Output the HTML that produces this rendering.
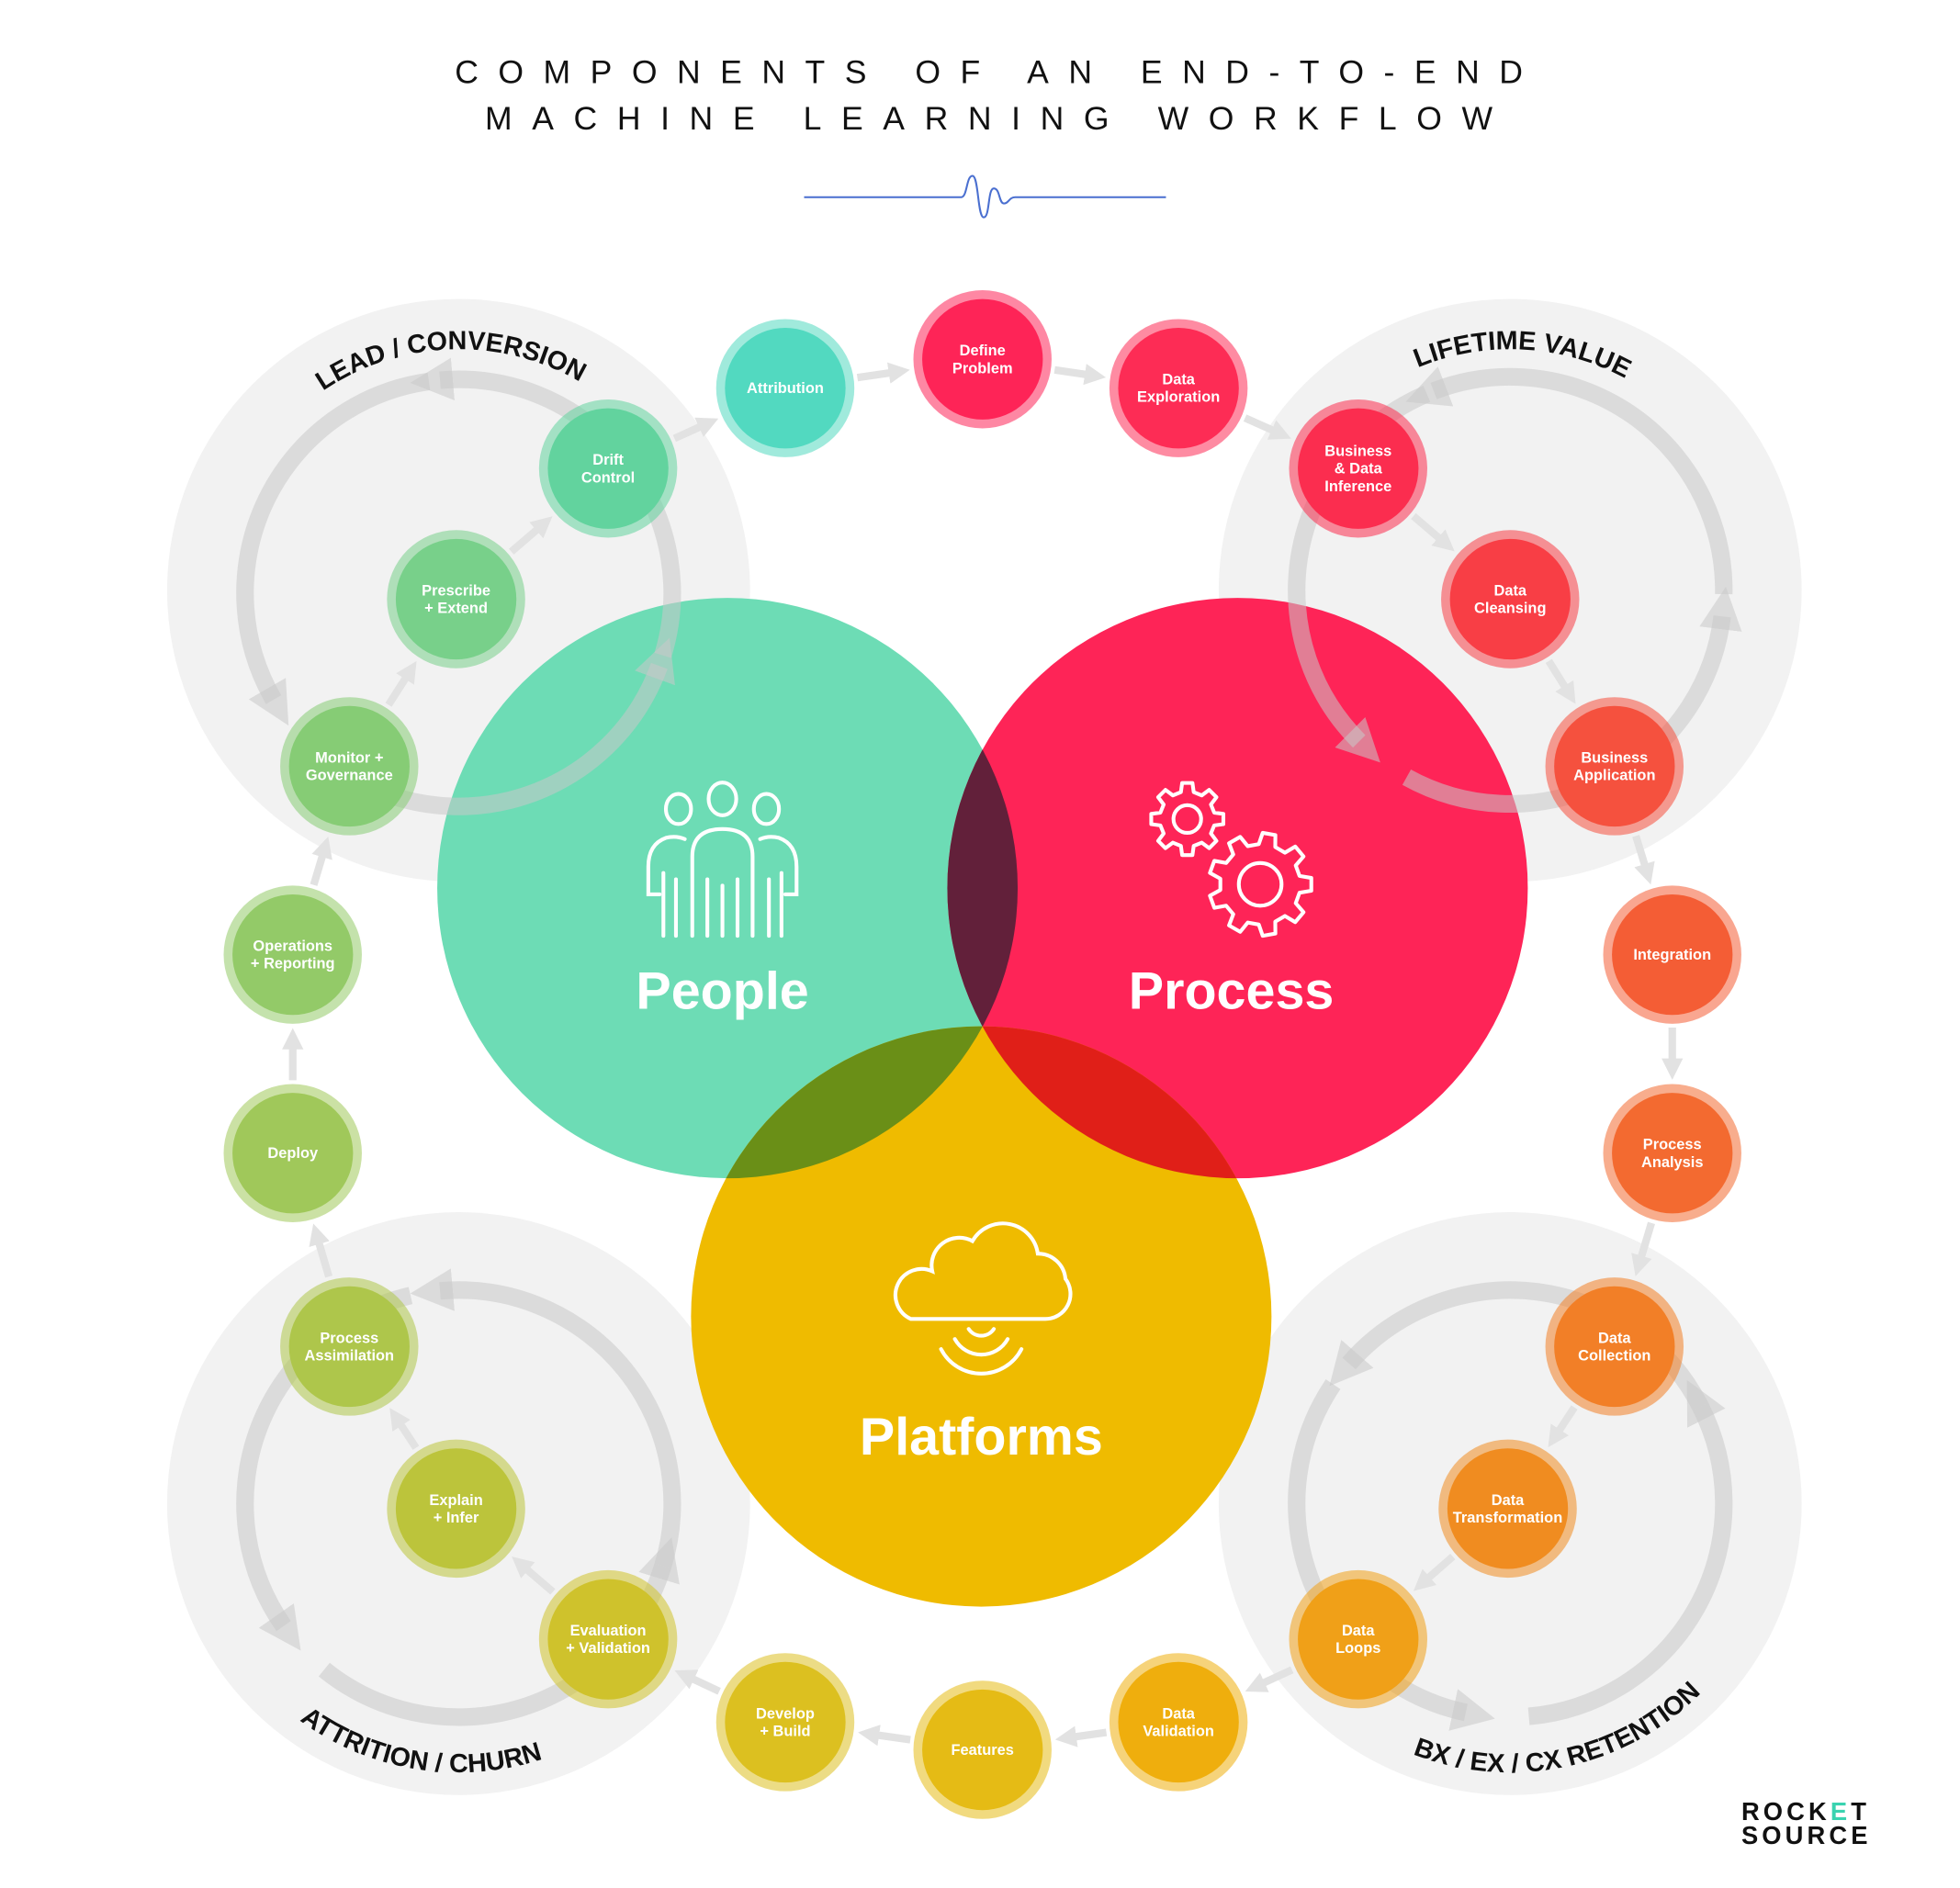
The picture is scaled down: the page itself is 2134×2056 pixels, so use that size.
<!DOCTYPE html>
<html><head><meta charset="utf-8"><style>
html,body{margin:0;padding:0;background:#fff;}
svg{display:block;}
text{font-family:"Liberation Sans",sans-serif;}
</style></head><body>
<svg id="s" xmlns="http://www.w3.org/2000/svg" width="2134" height="2056" viewBox="0 0 1560 1503">
<defs>
<marker id="ah" viewBox="0 0 10 10" refX="2" refY="5" markerWidth="17" markerHeight="17" markerUnits="userSpaceOnUse" orient="auto"><path d="M0,0 L10,5 L0,10 z" fill="#e2e2e2"/></marker>
<marker id="rh" viewBox="0 0 10 10" refX="3" refY="5" markerWidth="34" markerHeight="34" markerUnits="userSpaceOnUse" orient="auto"><path d="M0,0 L10,5 L0,10 z" fill="#c8c8c8" fill-opacity="0.55"/></marker>
<clipPath id="cPeople"><circle cx="579" cy="707" r="231"/></clipPath>
<clipPath id="cProcess"><circle cx="985" cy="707" r="231"/></clipPath>
</defs>
<rect width="1560" height="1503" fill="#fff"/>
<text x="362" y="66" font-size="26" fill="#111" textLength="850" lengthAdjust="spacing">COMPONENTS OF AN END-TO-END</text>
<text x="386" y="103" font-size="26" fill="#111" textLength="802" lengthAdjust="spacing">MACHINE LEARNING WORKFLOW</text>
<path d="M640 157 H765 C770 157 769 140 774 140 C779 140 778 173 783 173 C788 173 786 150 791 150 C796 150 795 162 799 162 C803 162 803 157 808 157 H928" fill="none" stroke="#4a6fd0" stroke-width="1.5"/>
<g fill="#f2f2f2">
<circle cx="365" cy="470" r="232"/><circle cx="1202" cy="470" r="232"/>
<circle cx="365" cy="1197" r="232"/><circle cx="1202" cy="1197" r="232"/>
</g>
<circle cx="579" cy="707" r="231" fill="#6ddcb5"/>
<circle cx="985" cy="707" r="231" fill="#fe2457"/>
<circle cx="781" cy="1048" r="231" fill="#efbb00"/>
<circle cx="985" cy="707" r="231" fill="#62203a" clip-path="url(#cPeople)"/>
<circle cx="781" cy="1048" r="231" fill="#6a8f17" clip-path="url(#cPeople)"/>
<circle cx="781" cy="1048" r="231" fill="#e01f18" clip-path="url(#cProcess)"/>
<g id="rings"></g>
<g id="conn"></g>
<g id="nodes"></g>
<g fill="none" stroke="#fff" stroke-width="3" stroke-linecap="round">
<ellipse cx="540" cy="644" rx="10" ry="12"/><ellipse cx="575" cy="636" rx="11" ry="13"/><ellipse cx="610" cy="644" rx="10" ry="12"/>
<path d="M551 745 V682 Q551 660 575 660 Q599 660 599 682 V745"/>
<path d="M563 700 V745 M587 700 V745 M575 705 V745"/>
<path d="M545 668 Q538 665 530 667 Q516 672 516 690 V712 H525"/>
<path d="M528 695 V745 M538 700 V745"/>
<path d="M605 668 Q612 665 620 667 Q634 672 634 690 V712 H625"/>
<path d="M622 695 V745 M612 700 V745"/>
</g>
<g id="gears" fill="none" stroke="#fff" stroke-width="3" stroke-linejoin="round"></g>
<g fill="none" stroke="#fff" stroke-width="3" stroke-linecap="round">
<path d="M725 1050 H832 A20 20 0 0 0 848 1018 A22 22 0 0 0 826 998 A28 28 0 0 0 774 988 A22 22 0 0 0 742 1012 A20 20 0 0 0 725 1050 Z"/>
<path d="M771 1058 A12 12 0 0 0 791 1058"/>
<path d="M760 1066 A24 24 0 0 0 802 1066"/>
<path d="M749 1074 A36 36 0 0 0 813 1074"/>
</g>
<g font-weight="bold" fill="#fff" text-anchor="middle" font-size="42">
<text x="575" y="803">People</text>
<text x="980" y="803">Process</text>
<text x="781" y="1158">Platforms</text>
</g>
<g id="labels" font-weight="bold" font-size="21" fill="#111"></g>
<g font-weight="bold" font-size="20" fill="#111" letter-spacing="3">
<text x="1386" y="1449">ROCK<tspan fill="#3ad3b0">E</tspan>T</text>
<text x="1386" y="1468">SOURCE</text>
</g>
</svg>
<script>
var NS="http://www.w3.org/2000/svg";
function el(t,a,p,txt){var e=document.createElementNS(NS,t);for(var k in a)e.setAttribute(k,a[k]);if(txt!=null)e.textContent=txt;p.appendChild(e);return e;}
function rad(d){return d*Math.PI/180;}
function pt(cx,cy,r,a){return [cx+r*Math.cos(rad(a)),cy+r*Math.sin(rad(a))];}
var rings=document.getElementById('rings');
var R=[[365,472,[-95,150,20]],[1202,470,[-111,135,7]],[365,1197,[-95,145,17]],[1202,1197,[-139,102,-27]]];
R.forEach(function(r){r[2].forEach(function(e){
 var s=e+112, p1=pt(r[0],r[1],170,s), p2=pt(r[0],r[1],170,e);
 el('path',{d:'M'+p1[0]+' '+p1[1]+' A170 170 0 0 0 '+p2[0]+' '+p2[1],fill:'none',stroke:'#c8c8c8','stroke-opacity':'0.55','stroke-width':14,'marker-end':'url(#rh)'},rings);
});});
var N=[
[484,373,'#62d39e',['Drift','Control']],
[625,309,'#52d9c0',['Attribution']],
[782,286,'#fe2457',['Define','Problem']],
[938,309,'#fd2c55',['Data','Exploration']],
[1081,373,'#fb2d4f',['Business','& Data','Inference']],
[1202,477,'#f83e45',['Data','Cleansing']],
[1285,610,'#f5513e',['Business','Application']],
[1331,760,'#f45d35',['Integration']],
[1331,918,'#f36a30',['Process','Analysis']],
[1285,1072,'#f27f27',['Data','Collection']],
[1200,1201,'#f08c20',['Data','Transformation']],
[1081,1305,'#f0a018',['Data','Loops']],
[938,1371,'#efae0d',['Data','Validation']],
[782,1393,'#e5bb15',['Features']],
[625,1371,'#dcc020',['Develop','+ Build']],
[484,1305,'#cfc22c',['Evaluation','+ Validation']],
[363,1201,'#bcc43b',['Explain','+ Infer']],
[278,1072,'#aec64b',['Process','Assimilation']],
[233,918,'#a0c85a',['Deploy']],
[233,760,'#93ca68',['Operations','+ Reporting']],
[278,610,'#86cc75',['Monitor +','Governance']],
[363,477,'#78d08a',['Prescribe','+ Extend']]
];
var conn=document.getElementById('conn'),nodes=document.getElementById('nodes');
for(var i=0;i<N.length;i++){
 var a=N[i],b=N[(i+1)%N.length];
 var dx=b[0]-a[0],dy=b[1]-a[1],L=Math.sqrt(dx*dx+dy*dy),ux=dx/L,uy=dy/L;
 el('line',{x1:a[0]+ux*58,y1:a[1]+uy*58,x2:b[0]-ux*72,y2:b[1]-uy*72,stroke:'#e2e2e2','stroke-width':6,'marker-end':'url(#ah)'},conn);
}
N.forEach(function(n){
 el('circle',{cx:n[0],cy:n[1],r:55,fill:n[2],'fill-opacity':0.55},nodes);
 el('circle',{cx:n[0],cy:n[1],r:48,fill:n[2]},nodes);
 var k=n[3].length,lh=14,y0=n[1]-(k-1)*lh/2+4;
 n[3].forEach(function(t,j){el('text',{x:n[0],y:y0+j*lh,'font-size':12,'font-weight':'bold',fill:'#fff','text-anchor':'middle'},nodes,t);});
});
var g=document.getElementById('gears');
function gear(cx,cy,Ro,Ri,n,rh){
 var d='',st=360/n;
 for(var k=0;k<n;k++){
  var a0=k*st;
  var pts=[[Ri,a0-st*0.3],[Ro,a0-st*0.18],[Ro,a0+st*0.18],[Ri,a0+st*0.3]];
  pts.forEach(function(p,j){var q=pt(cx,cy,p[0],p[1]);d+=(k==0&&j==0?'M':'L')+q[0].toFixed(1)+' '+q[1].toFixed(1)+' ';});
 }
 el('path',{d:d+'Z'},g);el('circle',{cx:cx,cy:cy,r:rh},g);
}
gear(945,652,29,22,8,11);gear(1003,704,41,32,9,17);
var lab=document.getElementById('labels'),defs=document.querySelector('defs');
function curve(id,cx,cy,r,c,top,txt){
 var a1,a2,sw;
 if(top){a1=c-75;a2=c+75;sw=1;}else{a1=c+75;a2=c-75;sw=0;}
 var p1=pt(cx,cy,r,a1),p2=pt(cx,cy,r,a2);
 el('path',{id:id,d:'M'+p1[0]+' '+p1[1]+' A'+r+' '+r+' 0 0 '+sw+' '+p2[0]+' '+p2[1],fill:'none'},defs);
 var t=el('text',{'text-anchor':'middle'},lab);
 var tp=el('textPath',{href:'#'+id,startOffset:'50%'},t,txt);
 tp.setAttributeNS('http://www.w3.org/1999/xlink','xlink:href','#'+id);
}
curve('l1',365,470,192,-92,true,'LEAD / CONVERSION');
curve('l2',1202,470,192,-87,true,'LIFETIME VALUE');
curve('l3',365,1197,214,99,false,'ATTRITION / CHURN');
curve('l4',1202,1197,214,78,false,'BX / EX / CX RETENTION');
</script>
</body></html>
